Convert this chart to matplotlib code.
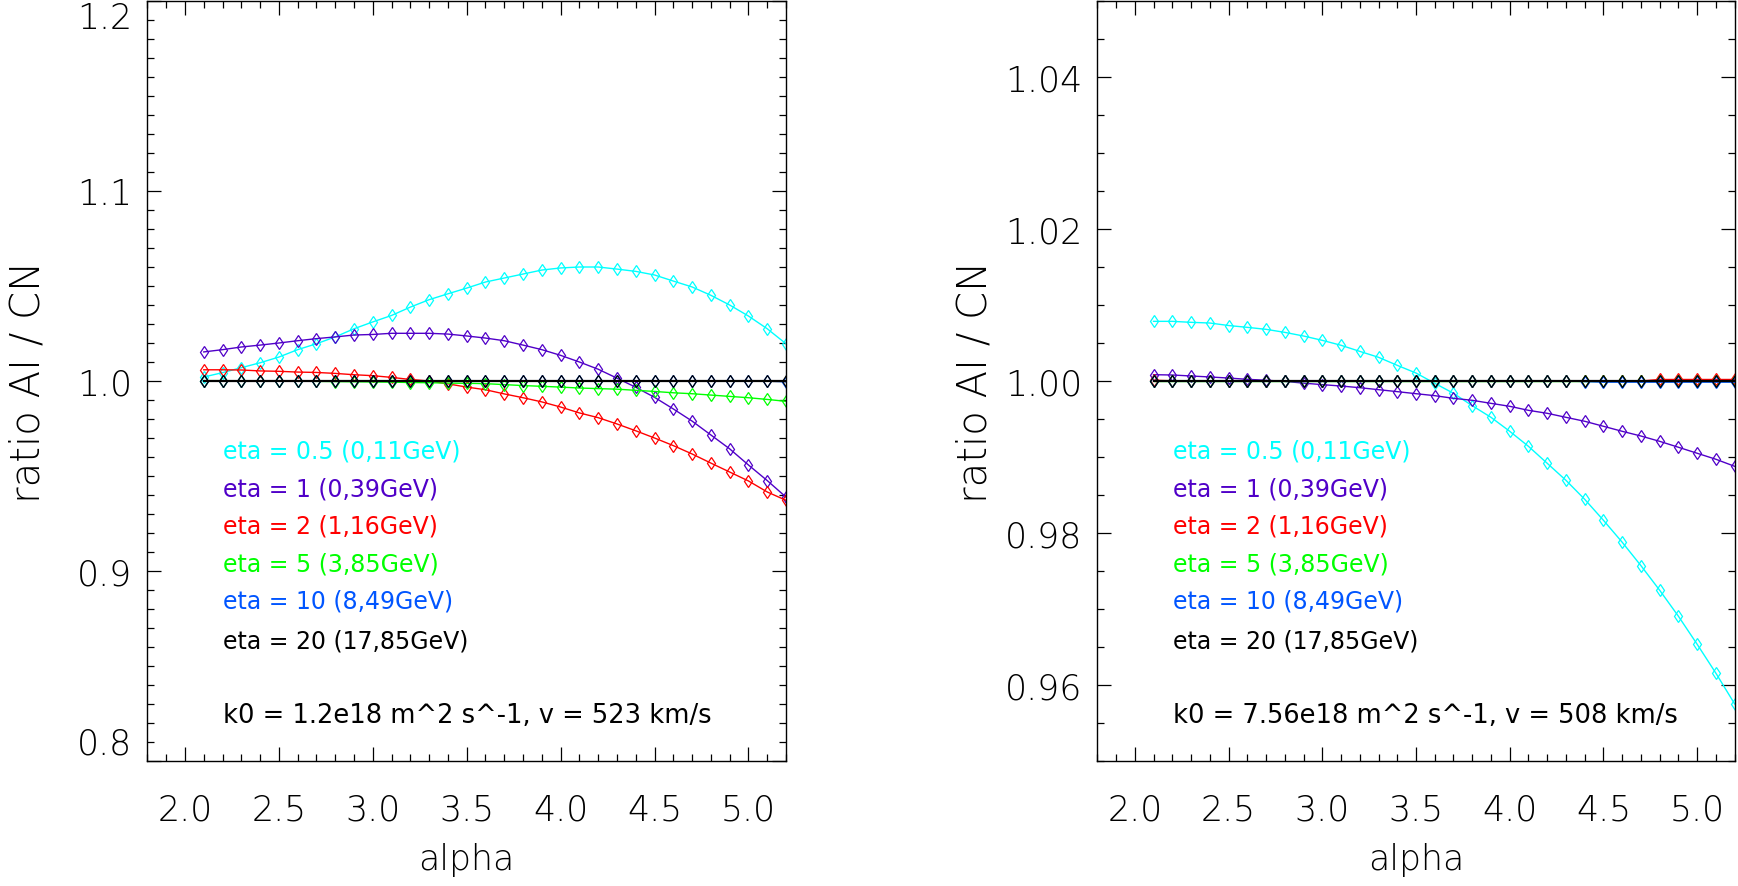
import matplotlib
matplotlib.use("Agg")
import matplotlib.pyplot as plt
from matplotlib.ticker import MultipleLocator

# ---------------- data ----------------
alpha = [2.1, 2.2, 2.3, 2.4, 2.5, 2.6, 2.7, 2.8, 2.9, 3.0, 3.1, 3.2, 3.3, 3.4, 3.5, 3.6,
         3.7, 3.8, 3.9, 4.0, 4.1, 4.2, 4.3, 4.4, 4.5, 4.6, 4.7, 4.8, 4.9, 5.0, 5.1, 5.2]

labels = ["eta = 0.5 (0,11GeV)", "eta = 1 (0,39GeV)", "eta = 2 (1,16GeV)",
          "eta = 5 (3,85GeV)", "eta = 10 (8,49GeV)", "eta = 20 (17,85GeV)"]
colors = ["#00FFFF", "#5000C8", "#FF0000", "#00FF00", "#0055FF", "#000000"]

# left panel (k0 = 1.2e18)
left_eta05 = [1.0021, 1.0044, 1.0070, 1.0096, 1.0126, 1.0165, 1.0196, 1.0232, 1.0275, 1.0311,
              1.0345, 1.0389, 1.0428, 1.0459, 1.0489, 1.0521, 1.0542, 1.0563, 1.0584, 1.0595,
              1.0600, 1.0600, 1.0589, 1.0577, 1.0558, 1.0526, 1.0495, 1.0451, 1.0400, 1.0342,
              1.0275, 1.0196]
left_eta1 = [1.0153, 1.0165, 1.0179, 1.0189, 1.0200, 1.0212, 1.0223, 1.0232, 1.0242, 1.0245,
             1.0251, 1.0251, 1.0251, 1.0247, 1.0237, 1.0226, 1.0212, 1.0189, 1.0165, 1.0135,
             1.0100, 1.0062, 1.0015, 0.9967, 0.9914, 0.9853, 0.9789, 0.9716, 0.9643, 0.9558,
             0.9476, 0.9389]
left_eta2 = [1.0059, 1.0059, 1.0058, 1.0053, 1.0051, 1.0047, 1.0045, 1.0040, 1.0033, 1.0028,
             1.0019, 1.0008, 1.0000, 0.9985, 0.9968, 0.9954, 0.9932, 0.9912, 0.9890, 0.9863,
             0.9832, 0.9807, 0.9774, 0.9738, 0.9700, 0.9660, 0.9616, 0.9568, 0.9521, 0.9474,
             0.9416, 0.9372]
left_eta5 = [1.0002, 1.0002, 1.0001, 1.0000, 1.0000, 1.0000, 0.9998, 0.9997, 0.9996, 0.9995,
             0.9994, 0.9992, 0.9991, 0.9989, 0.9988, 0.9986, 0.9981, 0.9976, 0.9972, 0.9968,
             0.9963, 0.9960, 0.9957, 0.9951, 0.9945, 0.9938, 0.9933, 0.9926, 0.9919, 0.9912,
             0.9903, 0.9893]
left_eta10 = [1.0, 1.0, 1.0, 1.0, 1.0, 1.0, 1.0, 1.0, 1.0, 1.0, 1.0, 1.0, 1.0, 1.0, 1.0, 1.0,
              1.0, 1.0, 1.0, 1.0, 1.0, 1.0, 1.0, 1.0, 1.0, 1.0, 1.0, 1.0, 1.0, 1.0, 0.99995, 0.9996]
left_eta20 = [1.0, 1.0, 1.0, 1.0, 1.0, 1.0, 1.0, 1.0, 1.0, 1.0, 1.0, 1.0, 1.0, 1.0, 1.0, 1.0,
              1.0, 1.0, 1.0, 1.0, 1.0, 1.0, 1.0, 1.0, 1.0, 1.0, 1.0, 1.0, 1.0, 1.0, 1.0, 1.0]

# right panel (k0 = 7.56e18)
right_eta05 = [1.00785, 1.00785, 1.00772, 1.00763, 1.00730, 1.00706, 1.00680, 1.00640, 1.00592,
               1.00535, 1.00470, 1.00390, 1.00312, 1.00206, 1.00105, 0.99970, 0.99838, 0.99675,
               0.99522, 0.99338, 0.99140, 0.98917, 0.98693, 0.98443, 0.98167, 0.97878, 0.97570,
               0.97246, 0.96904, 0.96535, 0.96154, 0.95750]
right_eta1 = [1.00083, 1.00079, 1.00066, 1.00053, 1.00039, 1.00022, 1.00010, 0.99995, 0.99972,
              0.99952, 0.99934, 0.99912, 0.99886, 0.99860, 0.99833, 0.99807, 0.99772, 0.99746,
              0.99706, 0.99667, 0.99614, 0.99575, 0.99522, 0.99470, 0.99404, 0.99338, 0.99276,
              0.99206, 0.99128, 0.99049, 0.98970, 0.98877]
right_eta2 = [1.0001, 1.00003, 1.0, 1.0, 1.0, 1.0, 1.0, 1.0, 1.0, 1.0, 1.0, 1.0, 1.0, 1.0, 1.0, 1.0,
              1.0, 1.0, 1.0, 1.0, 1.0, 1.0, 1.0, 1.0, 1.0, 1.0, 1.0, 1.0002, 1.0002, 1.0002,
              1.0002, 1.0002]
right_eta5 = [1.0, 1.0, 1.0, 1.0, 1.0, 1.0, 1.0, 1.0, 1.0, 1.0, 1.0, 1.0, 1.0, 1.0, 1.0, 1.0,
              1.0, 1.0, 1.0, 1.0, 1.0, 1.0, 1.0, 1.0, 1.0, 1.0, 1.0, 1.0, 1.0, 1.0, 1.0, 1.0]
right_eta10 = [1.0, 1.0, 1.0, 1.0, 1.0, 1.0, 1.0, 1.0, 1.0, 1.0, 1.0, 1.0, 1.0, 1.0, 1.0, 1.0,
               1.0, 1.0, 1.0, 1.0, 1.0, 1.0, 1.0, 0.99993, 0.99985, 0.99985, 0.99985, 0.99985,
               0.99985, 0.99985, 0.99985, 0.99985]
right_eta20 = [1.0, 1.0, 1.0, 1.0, 1.0, 1.0, 1.0, 1.0, 1.0, 1.0, 1.0, 1.0, 1.0, 1.0, 1.0, 1.0,
               1.0, 1.0, 1.0, 1.0, 1.0, 1.0, 1.0, 1.0, 1.0, 1.0, 1.0, 1.0, 1.0, 1.0, 1.0, 1.0]

left_series = [left_eta05, left_eta1, left_eta2, left_eta5, left_eta10, left_eta20]
right_series = [right_eta05, right_eta1, right_eta2, right_eta5, right_eta10, right_eta20]

left_note = "k0 = 1.2e18 m^2 s^-1, v = 523 km/s"
right_note = "k0 = 7.56e18 m^2 s^-1, v = 508 km/s"

x_ticks = [2.0, 2.5, 3.0, 3.5, 4.0, 4.5, 5.0]
x_ticklabels = ["2.0", "2.5", "3.0", "3.5", "4.0", "4.5", "5.0"]
left_yticks = [0.8, 0.9, 1.0, 1.1, 1.2]
left_yticklabels = ["0.8", "0.9", "1.0", "1.1", "1.2"]
right_yticks = [0.96, 0.98, 1.00, 1.02, 1.04]
right_yticklabels = ["0.96", "0.98", "1.00", "1.02", "1.04"]

# ---------------- figure ----------------
plt.rcParams['font.family'] = ['DejaVu Sans']
W, H = 1738, 887
fig = plt.figure(figsize=(W / 100, H / 100), dpi=100)
ax1 = fig.add_axes([147.4 / W, 125 / H, 638.6 / W, 760 / H])
ax2 = fig.add_axes([1097.3 / W, 125 / H, 637.4 / W, 760 / H])

TICKFS = 25
LABFS = 25


def setup(ax, series, ylim, yticks, yticklabels, yminor, note, edge_labels, ylabel_x):
    for ys, c in zip(series, colors):
        lw = 1.6 if c == "#000000" else 1.0
        ax.plot(alpha, ys, color=c, lw=lw, marker='d', markersize=6,
                markerfacecolor='none', markeredgecolor=c, markeredgewidth=0.9)
    ax.set_xlim(1.8, 5.2)
    ax.set_ylim(*ylim)
    ax.set_xticks(x_ticks)
    ax.set_xticklabels(x_ticklabels)
    ax.set_yticks(yticks)
    ax.set_yticklabels(yticklabels)
    ax.xaxis.set_minor_locator(MultipleLocator(0.1))
    ax.yaxis.set_minor_locator(MultipleLocator(yminor))
    ax.tick_params(which='both', direction='in', top=True, right=True, width=0.9,
                   colors='black')
    ax.tick_params(which='major', length=10)
    ax.tick_params(which='minor', length=5)
    ax.tick_params(axis='x', which='major', pad=23, labelsize=TICKFS)
    ax.tick_params(axis='y', which='major', pad=11, labelsize=TICKFS)
    for lab in ax.get_xticklabels() + ax.get_yticklabels():
        lab.set_fontweight('light')
    if edge_labels:
        yl = ax.get_yticklabels()
        yl[0].set_va('bottom')
        yl[-1].set_va('top')
    for s in ax.spines.values():
        s.set_linewidth(1.0)
    ax.set_xlabel("alpha", fontsize=LABFS, fontweight='light')
    ax.xaxis.set_label_coords(0.5, -0.129)
    ax.xaxis.label.set_va('center')
    ax.set_ylabel("ratio AI / CN", fontsize=29, fontweight='light')
    ax.yaxis.set_label_coords(ylabel_x, 0.5)
    ax.yaxis.label.set_va('center')

    ys_txt = [0.409, 0.359, 0.310, 0.260, 0.211, 0.159]
    for lab, c, yt in zip(labels, colors, ys_txt):
        ax.text(0.118, yt, lab, color=c, fontsize=17, transform=ax.transAxes,
                ha='left', va='center')
    ax.text(0.118, 0.061, note, color='black', fontsize=18.5, transform=ax.transAxes,
            ha='left', va='center')


setup(ax1, left_series, (0.8, 1.2), left_yticks, left_yticklabels, 0.01, left_note, True, -0.187)
setup(ax2, right_series, (0.95, 1.05), right_yticks, right_yticklabels, 0.005, right_note, False, -0.192)

fig.savefig("out.png", dpi=100)
